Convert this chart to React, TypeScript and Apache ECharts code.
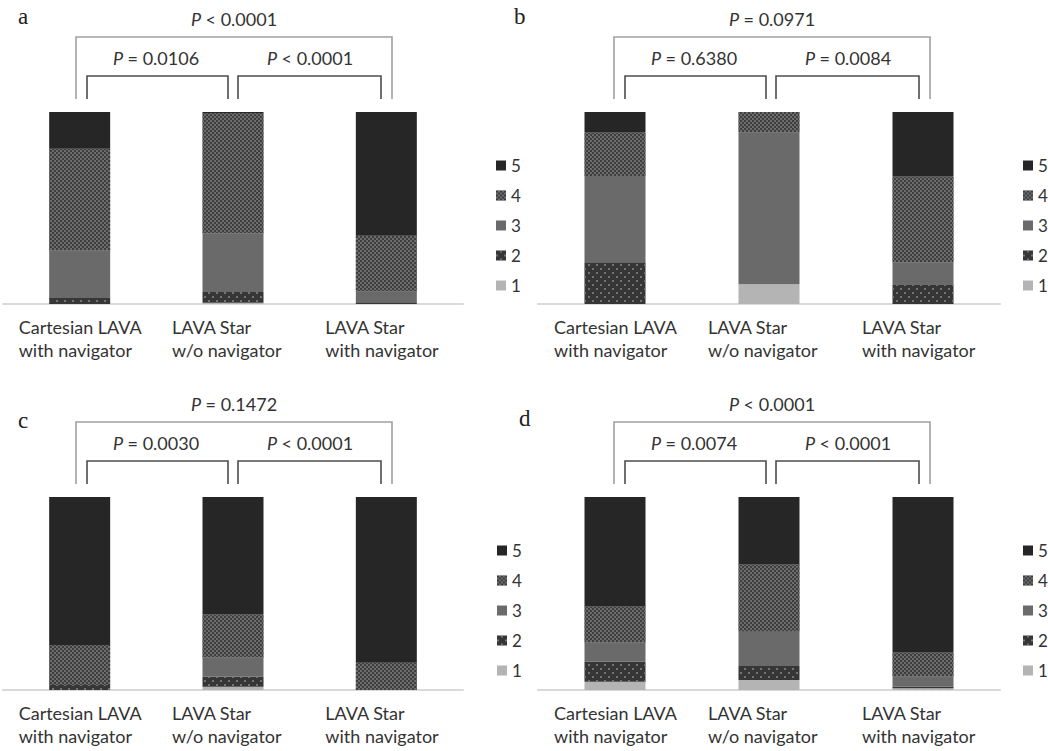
import React, { useEffect, useRef } from "react";
import * as echarts from "echarts";

const categories = ["Cartesian LAVA\nwith navigator", "LAVA Star\nw/o navigator", "LAVA Star\nwith navigator"];
const levels = ["1", "2", "3", "4", "5"];
const legendOrder = ["5", "4", "3", "2", "1"];

// Panel a: share (%) of each score per category
const a1 = [0, 0.7, 0];
const a2 = [3.5, 5.6, 0.9];
const a3 = [24.3, 30.6, 5.6];
const a4 = [53.0, 62.6, 29.0];
const a5 = [19.2, 0.5, 64.5];
// Panel b
const b1 = [0, 10.3, 0];
const b2 = [21.7, 0, 9.9];
const b3 = [45.0, 79.1, 11.8];
const b4 = [22.6, 10.6, 44.7];
const b5 = [10.7, 0, 33.6];
// Panel c
const c1 = [0, 1.7, 0];
const c2 = [2.6, 5.2, 0];
const c3 = [0, 10.0, 0];
const c4 = [20.7, 22.2, 14.1];
const c5 = [76.7, 60.9, 85.9];
// Panel d
const d1 = [4.3, 5.2, 0.9];
const d2 = [10.3, 7.2, 0.9];
const d3 = [10.0, 17.8, 5.2];
const d4 = [18.8, 34.8, 12.4];
const d5 = [56.6, 35.0, 80.6];

const panelLetters = ["a", "b", "c", "d"];
const pOverall = ["< 0.0001", "= 0.0971", "= 0.1472", "< 0.0001"];
const pLeft = ["= 0.0106", "= 0.6380", "= 0.0030", "= 0.0074"];
const pRight = ["< 0.0001", "= 0.0084", "< 0.0001", "< 0.0001"];

const panelData = [
  [a1, a2, a3, a4, a5],
  [b1, b2, b3, b4, b5],
  [c1, c2, c3, c4, c5],
  [d1, d2, d3, d4, d5],
];

const FONT = "Lato, 'Open Sans', sans-serif";
const NO_DECAL = { symbol: "rect", symbolSize: 1, color: "rgba(0,0,0,0)", dashArrayX: [1, 0], dashArrayY: [1, 0] };

const levelStyle: Record<string, any> = {
  "1": { color: "#b4b4b4", decal: NO_DECAL },
  "2": {
    color: "#363636",
    decal: { symbol: "rect", symbolSize: 0.9, color: "#7a7a7a", dashArrayX: [[2, 6], [0, 4, 2, 2]], dashArrayY: [2, 2] },
  },
  "3": { color: "#6a6a6a", decal: NO_DECAL },
  "4": {
    color: "#3e3e3e",
    decal: { symbol: "rect", symbolSize: 1, color: "#6c6c6c", dashArrayX: [[2, 2], [0, 2, 2, 0]], dashArrayY: [2, 0] },
  },
  "5": { color: "#262626", decal: NO_DECAL },
};

export default function App() {
  const ref = useRef<HTMLDivElement>(null);
  useEffect(() => {
    if (!ref.current) return;
    const chart = echarts.init(ref.current, undefined, { renderer: "svg" });

    const grids = [
      { left: 3, top: 112, width: 460, height: 192 },
      { left: 538, top: 112, width: 462, height: 192 },
      { left: 3, top: 497, width: 460, height: 193 },
      { left: 538, top: 497, width: 462, height: 193 },
    ];
    const offsets = [
      [0, 0],
      [538, 0],
      [0, 385],
      [538, 385],
    ];
    const legendPos = [
      [491, 152],
      [1018, 152],
      [492, 537],
      [1018, 537],
    ];

    const xAxes = grids.map((_, i) => ({
      type: "category",
      gridIndex: i,
      data: categories,
      axisTick: { show: false },
      axisLine: { lineStyle: { color: "#d9d9d9", width: 2 } },
      axisLabel: {
        interval: 0,
        margin: 11,
        formatter: (v: string) => v.split("\n").map((s) => `{t|${s}}`).join("\n"),
        rich: {
          t: { width: 122, align: "left", fontSize: 18, fontFamily: FONT, color: "#333", lineHeight: 23 },
        },
      },
    }));
    const yAxes = grids.map((_, i) => ({ type: "value", gridIndex: i, min: 0, max: 100, show: false }));

    const series: any[] = [];
    panelData.forEach((arrs, p) => {
      arrs.forEach((vals, li) => {
        const lv = levels[li];
        series.push({
          name: lv,
          type: "bar",
          xAxisIndex: p,
          yAxisIndex: p,
          stack: "s" + p,
          barWidth: 61,
          data: vals,
          itemStyle: { color: levelStyle[lv].color, decal: levelStyle[lv].decal },
        });
      });
    });

    const legends = legendPos.map(([l, t]) => ({
      orient: "vertical",
      left: l,
      top: t,
      data: legendOrder,
      icon: "rect",
      itemWidth: 10,
      itemHeight: 10,
      itemGap: 13,
      selectedMode: false,
      textStyle: { fontSize: 17, fontFamily: FONT, color: "#333" },
    }));

    const graphic: any[] = [];
    const pText = (x: number, y: number, rest: string) => ({
      type: "text",
      x,
      y,
      style: {
        text: `{i|P}{n| ${rest}}`,
        align: "center",
        verticalAlign: "middle",
        rich: {
          i: { fontStyle: "italic", fontSize: 18, fontFamily: FONT, fill: "#333" },
          n: { fontSize: 18, fontFamily: FONT, fill: "#333" },
        },
      },
    });
    offsets.forEach(([dx, dy], p) => {
      const pts = (arr: number[][]) => arr.map(([x, y]) => [x + dx, y + dy]);
      graphic.push({
        type: "polyline",
        shape: { points: pts([[76, 99], [76, 37], [392, 37], [392, 99]]) },
        style: { stroke: "#a0a0a0", lineWidth: 1.6, fill: "none" },
      });
      graphic.push({
        type: "polyline",
        shape: { points: pts([[87, 99], [87, 76], [228, 76], [228, 99]]) },
        style: { stroke: "#4d4d4d", lineWidth: 1.6, fill: "none" },
      });
      graphic.push({
        type: "polyline",
        shape: { points: pts([[238, 99], [238, 76], [381, 76], [381, 99]]) },
        style: { stroke: "#4d4d4d", lineWidth: 1.6, fill: "none" },
      });
      graphic.push(pText(234 + dx, 19 + dy, pOverall[p]));
      graphic.push(pText(156 + dx, 58 + dy, pLeft[p]));
      graphic.push(pText(310 + dx, 58 + dy, pRight[p]));
    });
    const letterPos = [
      [18, 28],
      [514, 28],
      [18, 432],
      [519, 430],
    ];
    letterPos.forEach(([x, y], i) => {
      graphic.push({
        type: "text",
        x,
        y,
        style: {
          text: panelLetters[i],
          fontSize: 23,
          fontFamily: "'Liberation Serif', 'DejaVu Serif', serif",
          fill: "#222",
          align: "left",
          verticalAlign: "bottom",
        },
      });
    });

    chart.setOption({
      animation: false,
      backgroundColor: "#ffffff",
      aria: { enabled: true, label: { enabled: false }, decal: { show: true } },
      grid: grids,
      xAxis: xAxes,
      yAxis: yAxes,
      legend: legends,
      series,
      graphic,
    });
    return () => chart.dispose();
  }, []);
  return (
    <div
      ref={ref}
      style={{ position: "fixed", left: 0, top: 0, width: 1048, height: 751, background: "#fff" }}
    />
  );
}
